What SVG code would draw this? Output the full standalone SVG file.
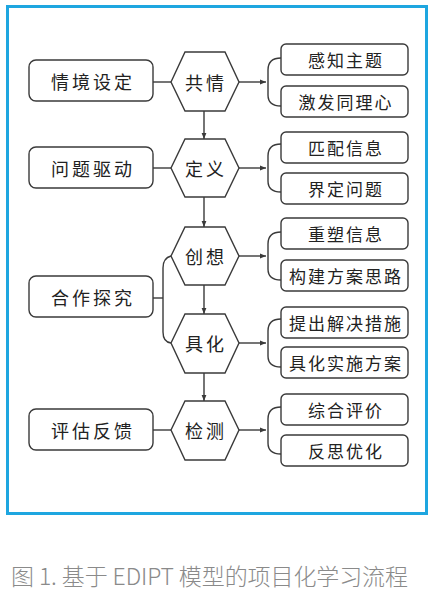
<svg xmlns="http://www.w3.org/2000/svg" width="432" height="600" viewBox="0 0 432 600">
<style>
.frame{fill:none;stroke:#1ea6e0;stroke-width:3}
.box{fill:#fff;stroke:#3a3a3a;stroke-width:1.4}
.hex{fill:#fff;stroke:#3a3a3a;stroke-width:1.4}
.ln{fill:none;stroke:#3a3a3a;stroke-width:1.4}
.t{font-family:"Noto Sans CJK SC","Noto Sans",sans-serif;font-size:18px;fill:#222;text-anchor:middle;dominant-baseline:central}
.tl{letter-spacing:3px}
.tr{font-size:17px;letter-spacing:2px}
.th{letter-spacing:3px}
.cap{font-family:"Noto Sans CJK SC","Noto Sans",sans-serif;font-size:23px;font-weight:300;fill:#8a8a8a}
</style>
<defs>
<marker id="ah" viewBox="0 0 10 10" refX="10" refY="5" markerWidth="6" markerHeight="6" markerUnits="userSpaceOnUse" orient="auto">
<path d="M0,1 L10,5 L0,9 Z" fill="#3a3a3a"/>
</marker>
</defs>
<rect x="0" y="0" width="432" height="600" fill="#fff"/>
<rect class="frame" x="7.5" y="6.5" width="419" height="507"/>

<g id="connectors">
<line class="ln" x1="153" y1="82" x2="171" y2="82"/>
<line class="ln" x1="153" y1="168" x2="171" y2="168"/>
<line class="ln" x1="153" y1="298" x2="163" y2="298"/>
<path class="ln" d="M171,256 Q163,258 163,268 L163,332 Q163,342 171,343"/>
<line class="ln" x1="153" y1="430" x2="171" y2="430"/>
<line class="ln" x1="204" y1="111" x2="204" y2="139" marker-end="url(#ah)"/>
<line class="ln" x1="204" y1="197" x2="204" y2="227" marker-end="url(#ah)"/>
<line class="ln" x1="204" y1="285" x2="204" y2="314" marker-end="url(#ah)"/>
<line class="ln" x1="204" y1="373" x2="204" y2="401" marker-end="url(#ah)"/>
<line class="ln" x1="239" y1="82" x2="266" y2="82" marker-end="url(#ah)"/>
<line class="ln" x1="239" y1="168" x2="266" y2="168" marker-end="url(#ah)"/>
<line class="ln" x1="239" y1="256" x2="266" y2="256" marker-end="url(#ah)"/>
<line class="ln" x1="239" y1="343" x2="266" y2="343" marker-end="url(#ah)"/>
<line class="ln" x1="239" y1="430" x2="266" y2="430" marker-end="url(#ah)"/>
<path class="ln" d="M281,58 Q268,58 268,70 L268,95 Q268,106 281,106"/>
<path class="ln" d="M281,144 Q268,144 268,156 L268,181 Q268,192 281,192"/>
<path class="ln" d="M281,232 Q268,232 268,244 L268,269 Q268,280 281,280"/>
<path class="ln" d="M281,319 Q268,319 268,331 L268,356 Q268,367 281,367"/>
<path class="ln" d="M281,407 Q268,407 268,419 L268,443 Q268,454 281,454"/>
</g>

<g id="n-qingjing"><rect class="box" x="29" y="60" width="124" height="41" rx="7"/><text class="t tl" x="93" y="81">情境设定</text></g>
<g id="n-wenti"><rect class="box" x="29" y="147" width="124" height="41" rx="7"/><text class="t tl" x="93" y="168">问题驱动</text></g>
<g id="n-hezuo"><rect class="box" x="29" y="276" width="124" height="41" rx="7"/><text class="t tl" x="93" y="297">合作探究</text></g>
<g id="n-pinggu"><rect class="box" x="29" y="409" width="124" height="41" rx="7"/><text class="t tl" x="93" y="430">评估反馈</text></g>

<g id="h-gongqing"><polygon class="hex" points="171,82 185,52 225,52 239,82 225,111 185,111"/><text class="t th" x="206" y="82">共情</text></g>
<g id="h-dingyi"><polygon class="hex" points="171,168 185,139 225,139 239,168 225,197 185,197"/><text class="t th" x="206" y="168">定义</text></g>
<g id="h-chuangxiang"><polygon class="hex" points="171,256 185,227 225,227 239,256 225,285 185,285"/><text class="t th" x="206" y="256">创想</text></g>
<g id="h-juhua"><polygon class="hex" points="171,343 185,314 225,314 239,343 225,373 185,373"/><text class="t th" x="206" y="343">具化</text></g>
<g id="h-jiance"><polygon class="hex" points="171,430 185,401 225,401 239,430 225,460 185,460"/><text class="t th" x="206" y="430">检测</text></g>

<g id="r-1"><rect class="box" x="281" y="44" width="127" height="31" rx="5"/><text class="t tr" x="346" y="59.5">感知主题</text></g>
<g id="r-2"><rect class="box" x="281" y="86" width="127" height="31" rx="5"/><text class="t tr" x="346" y="101.5">激发同理心</text></g>
<g id="r-3"><rect class="box" x="281" y="132" width="127" height="31" rx="5"/><text class="t tr" x="346" y="147.5">匹配信息</text></g>
<g id="r-4"><rect class="box" x="281" y="173" width="127" height="31" rx="5"/><text class="t tr" x="346" y="188.5">界定问题</text></g>
<g id="r-5"><rect class="box" x="281" y="218" width="127" height="31" rx="5"/><text class="t tr" x="346" y="233.5">重塑信息</text></g>
<g id="r-6"><rect class="box" x="281" y="260" width="127" height="31" rx="5"/><text class="t tr" x="346" y="275.5">构建方案思路</text></g>
<g id="r-7"><rect class="box" x="281" y="307" width="127" height="31" rx="5"/><text class="t tr" x="346" y="322.5">提出解决措施</text></g>
<g id="r-8"><rect class="box" x="281" y="347" width="127" height="31" rx="5"/><text class="t tr" x="346" y="362.5">具化实施方案</text></g>
<g id="r-9"><rect class="box" x="281" y="394" width="127" height="31" rx="5"/><text class="t tr" x="346" y="409.5">综合评价</text></g>
<g id="r-10"><rect class="box" x="281" y="435" width="127" height="31" rx="5"/><text class="t tr" x="346" y="450.5">反思优化</text></g>

<text class="cap" x="11" y="585" textLength="397" lengthAdjust="spacing">图 1. 基于 EDIPT 模型的项目化学习流程</text>
</svg>
